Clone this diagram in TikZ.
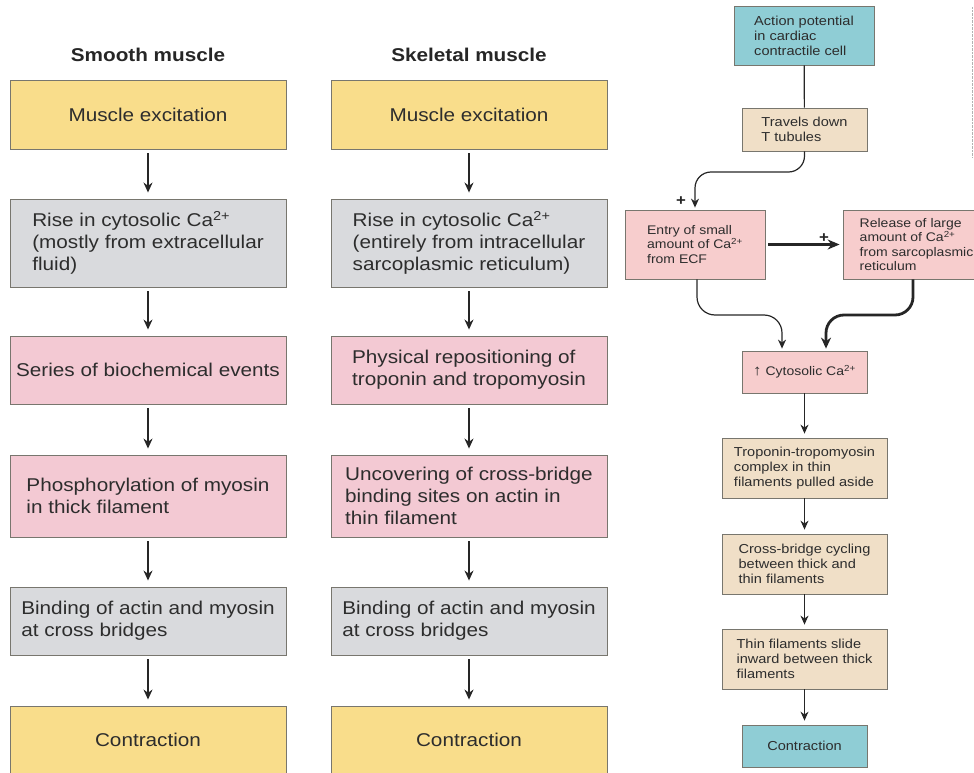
\documentclass[tikz,border=0pt]{standalone}
\usepackage{fontspec}
\setmainfont{Liberation Sans}[FakeStretch=1.12]
\usetikzlibrary{arrows.meta}

\definecolor{excite}{RGB}{249,221,139}
\definecolor{calcium}{RGB}{217,218,221}
\definecolor{events}{RGB}{243,201,211}
\definecolor{heartpink}{RGB}{247,205,205}
\definecolor{cardtan}{RGB}{240,223,199}
\definecolor{cardteal}{RGB}{143,205,213}
\definecolor{edge}{RGB}{120,118,110}
\definecolor{ink}{RGB}{45,45,45}

\tikzset{
  bigbox/.style={draw=edge, line width=0.9pt, minimum width=276pt, align=left, inner sep=0pt, text=ink, font=\fontsize{18.5}{22}\selectfont},
  title/.style={font=\fontsize{18.5}{22}\selectfont\bfseries, text=black!85},
  down/.style={-{Stealth[length=10pt,width=9pt]}, line width=1.4pt, black!85, shorten <=4pt, shorten >=6pt},
  smallbox/.style={draw=edge, line width=0.8pt, align=left, inner sep=0pt, text=ink, font=\fontsize{13}{15}\selectfont},
  flow/.style={-{Stealth[length=9pt,width=8pt]}, line width=1.2pt, black!85},
  plus/.style={font=\fontsize{15}{15}\selectfont\bfseries, text=black!85}
}

\begin{document}
\begin{tikzpicture}[x=1pt,y=-1pt]
  \useasboundingbox (0,0) rectangle (974,773);
  \clip (0,0) rectangle (974,773);
  %smooth muscle
  \node[title] (smoothT) at (148,55) {Smooth muscle};
  \node[bigbox, fill=excite, minimum height=69pt] (sm1) at (148,114.5) {Muscle excitation};
  \node[bigbox, fill=calcium, minimum height=88pt] (sm2) at (148,243) {Rise in cytosolic Ca\textsuperscript{2+}\\(mostly from extracellular\\fluid)};
  \node[bigbox, fill=events, minimum height=68pt] (sm3) at (148,370) {Series of biochemical events};
  \node[bigbox, fill=events, minimum height=82pt] (sm4) at (148,496) {Phosphorylation of myosin\\in thick filament};
  \node[bigbox, fill=calcium, minimum height=68pt] (sm5) at (148,621) {Binding of actin and myosin\\at cross bridges};
  \node[bigbox, fill=excite, minimum height=68pt] (sm6) at (148,740) {Contraction};
  \foreach \a/\b in {1/2,2/3,3/4,4/5,5/6}
    \draw[down] (sm\a) -- (sm\b);
  %skeletal muscle
  \node[title] (skelT) at (469,55) {Skeletal muscle};
  \node[bigbox, fill=excite, minimum height=69pt] (sk1) at (469,114.5) {Muscle excitation};
  \node[bigbox, fill=calcium, minimum height=88pt] (sk2) at (469,243) {Rise in cytosolic Ca\textsuperscript{2+}\\(entirely from intracellular\\sarcoplasmic reticulum)};
  \node[bigbox, fill=events, minimum height=68pt] (sk3) at (469,370) {Physical repositioning of\\troponin and tropomyosin};
  \node[bigbox, fill=events, minimum height=82pt] (sk4) at (469,496) {Uncovering of cross-bridge\\binding sites on actin in\\thin filament};
  \node[bigbox, fill=calcium, minimum height=68pt] (sk5) at (469,621) {Binding of actin and myosin\\at cross bridges};
  \node[bigbox, fill=excite, minimum height=68pt] (sk6) at (469,740) {Contraction};
  \foreach \a/\b in {1/2,2/3,3/4,4/5,5/6}
    \draw[down] (sk\a) -- (sk\b);
  %cardiac
  \node[smallbox, fill=cardteal, minimum width=140pt, minimum height=59pt] (ap) at (804,35.5) {Action potential\\in cardiac\\contractile cell};
  \node[smallbox, fill=cardtan, minimum width=125pt, minimum height=43pt] (tt) at (804.5,129.5) {Travels down\\T tubules};
  \draw[line width=1.2pt, black!85] (ap) -- (tt);
  \node[smallbox, fill=heartpink, minimum width=140pt, minimum height=69pt, font=\fontsize{12.5}{14.5}\selectfont] (entry) at (695,244.5) {Entry of small\\amount of Ca\textsuperscript{2+}\\from ECF};
  \node[smallbox, fill=heartpink, minimum width=147pt, minimum height=69pt, font=\fontsize{12.5}{14.5}\selectfont] (release) at (916.5,244.5) {Release of large\\amount of Ca\textsuperscript{2+}\\from sarcoplasmic\\reticulum};
  \node[smallbox, fill=heartpink, minimum width=125pt, minimum height=42pt, font=\fontsize{12.5}{14.5}\selectfont] (cyto) at (804.5,372) {{\fontsize{15}{15}\selectfont ↑} Cytosolic Ca\textsuperscript{2+}};
  \node[smallbox, fill=cardtan, minimum width=165pt, minimum height=60pt] (tropo) at (804.5,468) {Troponin-tropomyosin\\complex in thin\\filaments pulled aside};
  \node[smallbox, fill=cardtan, minimum width=165pt, minimum height=60pt] (cross) at (804.5,564) {Cross-bridge cycling\\between thick and\\thin filaments};
  \node[smallbox, fill=cardtan, minimum width=165pt, minimum height=60pt] (slide) at (804.5,659) {Thin filaments slide\\inward between thick\\filaments};
  \node[smallbox, fill=cardteal, minimum width=125pt, minimum height=42pt] (contr) at (804.5,746) {Contraction};
  \draw[flow, rounded corners=16pt, shorten >=2pt] (tt.south) -- (804.5,172) -- (695,172) -- (entry.north);
  \node[plus] (plusA) at (681,201) {+};
  \draw[-{Stealth[length=12pt,width=10pt]}, line width=2.6pt, black!85] ([xshift=3pt]entry.east) -- ([xshift=-3pt]release.west);
  \node[plus] (plusB) at (824,238) {+};
  \draw[flow, rounded corners=18pt, shorten >=2pt] ([xshift=2pt]entry.south) -- (697,315) -- (782,315) -- ([xshift=-22.5pt]cyto.north);
  \draw[-{Stealth[length=11pt,width=10pt]}, line width=2.8pt, black!85, rounded corners=18pt, shorten >=2pt] ([xshift=-3.5pt]release.south) -- (913,315) -- (826,315) -- ([xshift=21.5pt]cyto.north);
  \foreach \a/\b in {cyto/tropo,tropo/cross,cross/slide,slide/contr}
    \draw[flow, shorten >=4pt] (\a) -- (\b);
  %borde
  \draw[black!30, densely dotted] (972,7) -- (972,157);
\end{tikzpicture}
\end{document}
